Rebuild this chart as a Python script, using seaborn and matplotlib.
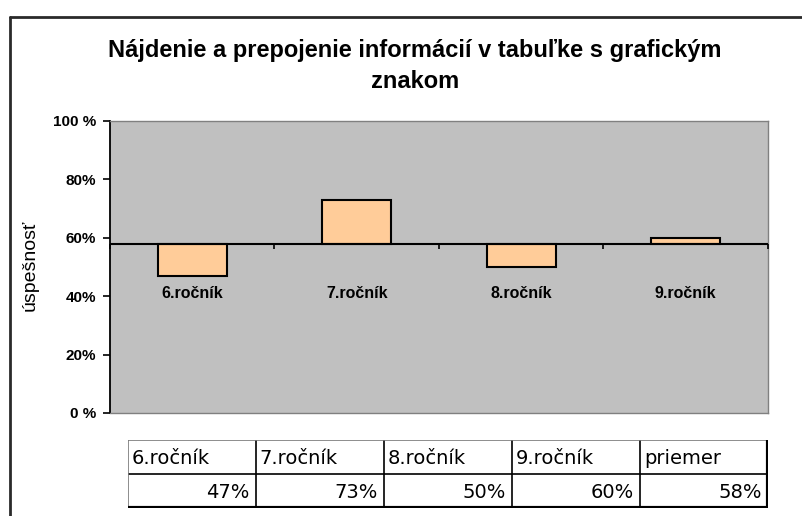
import numpy as np
import pandas as pd
import matplotlib
matplotlib.use("Agg")
import matplotlib.pyplot as plt
from matplotlib.lines import Line2D
import seaborn as sns

# ---- data ----
categories = ["6.ročník", "7.ročník", "8.ročník", "9.ročník"]
values = [47, 73, 50, 60]
average_label = "priemer"
average_value = 58
ytick_values = [0, 20, 40, 60, 80, 100]
ytick_labels = ["0 %", "20%", "40%", "60%", "80%", "100 %"]
title_text = "Nájdenie a prepojenie informácií v tabuľke s grafickým\nznakom"
ylabel_text = "úspešnosť"

sns.set_theme(style="white")
plt.rcParams["font.family"] = ["Liberation Sans", "DejaVu Sans"]
plt.rcParams["text.color"] = "black"
plt.rcParams["ytick.color"] = "black"
plt.rcParams["ytick.labelcolor"] = "black"

W, H = 803, 516
fig = plt.figure(figsize=(W / 100, H / 100), dpi=100)
fig.patch.set_facecolor("white")

def fx(px):
    return px / W

def fy(py):
    return 1 - py / H

# plot area
ax = fig.add_axes([fx(110), fy(413), fx(768) - fx(110), fy(121) - fy(413)])
ax.set_facecolor("#C0C0C0")

df = pd.DataFrame({"cat": categories, "diff": np.array(values) - average_value})
sns.barplot(data=df, x="cat", y="diff", color="#FFCC99", saturation=1,
            edgecolor="black", linewidth=1.5, width=0.42, ax=ax)

ax.set_ylim(ytick_values[0] - average_value, ytick_values[-1] - average_value)
ax.set_xlim(-0.5, len(categories) - 0.5)
ax.set_yticks(np.array(ytick_values) - average_value)
ax.set_yticklabels(ytick_labels, fontsize=11, fontweight="bold", color="black")
ax.set_xticks([])
ax.set_xlabel("")
ax.set_ylabel("")
ax.tick_params(axis="y", direction="out", length=5, width=1.2, color="black",
               pad=5, left=True)

for s in ["top", "right", "bottom"]:
    ax.spines[s].set_color("#808080")
    ax.spines[s].set_linewidth(1)
ax.spines["left"].set_color("black")
ax.spines["left"].set_linewidth(1.3)

# baseline at average (category axis)
ax.axhline(0, color="black", lw=1.5, zorder=3)
bounds = np.arange(len(categories) + 1) - 0.5
ax.vlines(bounds, 0, -2.0, color="black", lw=1.2, zorder=3, clip_on=False)

for i, c in enumerate(categories):
    ax.annotate(c, (i, 0), xytext=(0, -36), textcoords="offset points",
                ha="center", va="center", fontsize=11.5, fontweight="bold",
                color="black")

# title and y label
fig.text(fx(415), fy(66), title_text, ha="center", va="center",
         fontsize=17, fontweight="bold", linespacing=1.45, color="black")
fig.text(fx(30), fy(265), ylabel_text, ha="center", va="center",
         rotation=90, fontsize=14, color="black")

# outer frame (chart area border)
fig.add_artist(Line2D([fx(10), fx(10)], [0, fy(17)], transform=fig.transFigure,
                      color="#2a2a2a", lw=2))
fig.add_artist(Line2D([fx(10), 1], [fy(17), fy(17)], transform=fig.transFigure,
                      color="#2a2a2a", lw=2))

# data table
tax = fig.add_axes([fx(128), fy(508), fx(768) - fx(128), fy(440) - fy(508)])
tax.set_xlim(0, len(categories) + 1)
tax.set_ylim(0, 2)
tax.axis("off")
table_labels = categories + [average_label]
table_values = values + [average_value]
ncol = len(table_labels)
tax.vlines(np.arange(1, ncol), 0, 2, color="black", lw=1.2)
tax.hlines(1, 0, ncol, color="black", lw=1.2)
tax.hlines(2, 0, ncol, color="#7a7a7a", lw=1.2)
tax.vlines(0, 0, 2, color="#7a7a7a", lw=1.2)
tax.vlines(ncol, 0, 2, color="black", lw=3)
tax.hlines(0, 0, ncol, color="black", lw=3)
for j, (lab, v) in enumerate(zip(table_labels, table_values)):
    tax.text(j + 0.03, 1.45, lab, ha="left", va="center", fontsize=14,
             family=["DejaVu Sans"], color="black")
    tax.text(j + 0.95, 0.45, f"{v}%", ha="right", va="center", fontsize=14,
             family=["DejaVu Sans"], color="black")

fig.savefig("out.png", dpi=100, facecolor="white")
